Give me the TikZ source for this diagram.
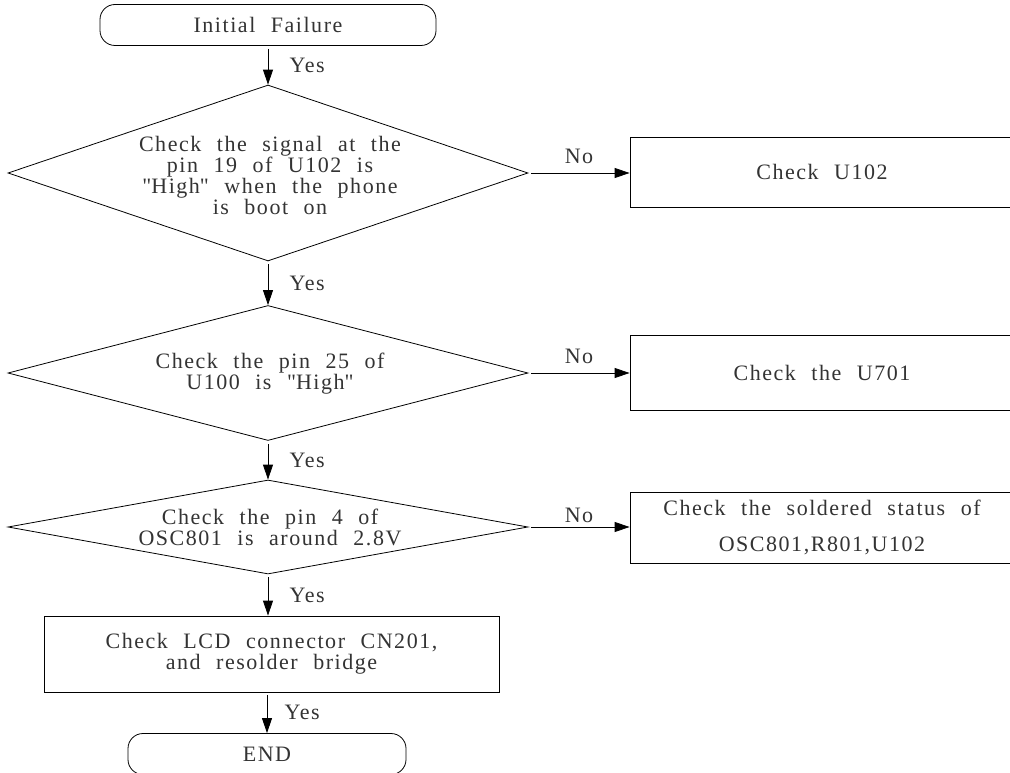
\documentclass[tikz,border=0pt]{standalone}
\usepackage{fontspec}
\setmainfont{Liberation Serif}[LetterSpace=7, WordSpace=2.2]
\usetikzlibrary{arrows.meta,positioning,shapes}

\begin{document}
\begin{tikzpicture}[x=1pt, y=-1pt,
  every node/.style={font=\fontsize{22}{21}\selectfont, text=black!80},
  flow/.style={draw, line width=0.8pt, -{Triangle[length=15pt,width=10pt]}, shorten <=3pt},
  term/.style={draw, rounded corners=15pt, line width=0.8pt, minimum width=336pt, minimum height=41pt},
  check/.style={draw, line width=0.8pt, align=center, minimum width=384pt},
  decision/.style={draw, diamond, inner sep=0pt, minimum width=520pt, line width=0.8pt}]
\useasboundingbox (0,0) rectangle (1010,773);

% Start and end
\node[term] (start) at (268,25) {Initial Failure};
\node[term, minimum width=278pt] (stop) at (267,754) {END};

% Decisions
\node[decision, minimum height=176pt] (d1) at (268,173) {};
\node[align=center] (d1txt) at (270,175) {Check the signal at the\\pin 19 of U102 is\\\textquotedbl High\textquotedbl{} when the phone\\is boot on};
\node[decision, minimum height=135pt] (d2) at (268,373) {};
\node[align=center] (d2txt) at (270,374) {Check the pin 25 of\\U100 is \textquotedbl High\textquotedbl};
\node[decision, minimum height=94pt] (d3) at (268,527) {};
\node[align=center] (d3txt) at (270,527) {Check the pin 4 of\\OSC801 is around 2.8V};

% Actions
\node[check, minimum height=70pt] (chk1) at (822,172) {Check U102};
\node[check, minimum height=75pt] (chk2) at (822,372.5) {Check the U701};
\node[check, minimum height=71pt] (chk3) at (822,527.5) {Check the soldered status of\\[15pt]OSC801,R801,U102};
\node[check, minimum width=455pt, minimum height=76pt] (lcd) at (271.5,654) {Check LCD connector CN201,\\and resolder bridge};

% Yes path
\draw[flow] (start) -- node[midway, right=18pt] (y0) {Yes} (d1);
\draw[flow] (d1) -- node[midway, right=18pt] (y1) {Yes} (d2);
\draw[flow] (d2) -- node[midway, right=18pt] (y2) {Yes} (d3);
\draw[flow] (d3) -- node[midway, right=18pt] (y3) {Yes} (lcd.north -| d3.south);
\draw[flow] (lcd.south -| stop.north) -- node[midway, right=14pt] (y4) {Yes} (stop);

% No branches
\draw[flow] (d1.east) -- node[midway, above=6pt] (n1) {No} (d1.east -| chk1.west);
\draw[flow] (d2.east) -- node[midway, above=6pt] (n2) {No} (d2.east -| chk2.west);
\draw[flow] (d3.east) -- node[midway, above=1pt] (n3) {No} (d3.east -| chk3.west);

\end{tikzpicture}
\end{document}
